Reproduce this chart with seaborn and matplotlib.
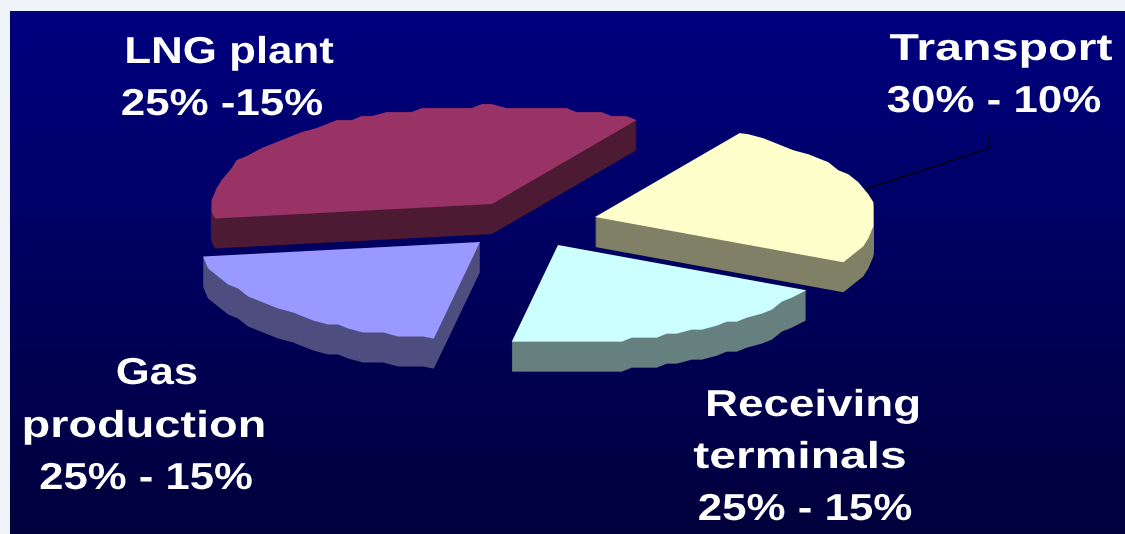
import numpy as np
import matplotlib
matplotlib.use("Agg")
import matplotlib.pyplot as plt
import matplotlib.patheffects as pe
from matplotlib.path import Path
from matplotlib.transforms import Affine2D
import seaborn as sns

# Cost-chain breakdown: slice order runs clockwise from the transport slice
categories = ["Transport", "Receiving terminals", "Gas production", "LNG plant"]
slice_shares = [24, 20, 20, 36]
top_colors = ["#FFFFCC", "#CCFFFF", "#9999FF", "#993366"]
wall_colors = ["#808066", "#668080", "#4D4D80", "#4D1A33"]

# Label lines: text, centre x, baseline y (image pixels from the top), horizontal stretch
label_lines = ["LNG plant", "25% -15%", "Transport", "30% - 10%", "Gas", "production",
               "25% - 15%", "Receiving", "terminals", "25% - 15%"]
label_x = [229, 222, 1001, 994, 157, 144, 146, 813, 800, 805]
label_y = [63, 115, 60, 112, 384, 437, 489, 416, 468, 520]
label_stretch = [1.17, 1.17, 1.29, 1.17, 1.16, 1.25, 1.165, 1.22, 1.28, 1.17]

# Slice tips after pulling the pie apart, image pixels
tip_x = [595, 558, 480, 492]
tip_y = [217, 245, 242, 204]

WIDTH, HEIGHT = 1125, 534
RADIUS = 280
SQUASH = 98 / RADIUS
DEPTH = 30
START_ANGLE = 58.9

sns.set_theme(style="white")
plt.rcParams["font.family"] = ["Liberation Sans", "DejaVu Sans"]
palette_top = sns.color_palette(top_colors)
palette_wall = sns.color_palette(wall_colors)


class WideGlyphs(pe.AbstractPathEffect):
    """Stretch glyph outlines horizontally about a fixed pixel column."""

    def __init__(self, factor, column):
        super().__init__()
        self.stretch = Affine2D().translate(-column, 0).scale(factor, 1).translate(column, 0)

    def draw_path(self, renderer, gc, tpath, affine, rgbFace=None):
        renderer.draw_path(gc, tpath, affine + self.stretch, rgbFace)


class SteppedArc(pe.AbstractPathEffect):
    """Draw a wedge with its rim stepped on a coarse pixel grid, corners kept exact."""

    def __init__(self, step_x=5, step_y=4, spacing=12):
        super().__init__()
        self.step = np.array([step_x, step_y])
        self.spacing = spacing

    def draw_path(self, renderer, gc, tpath, affine, rgbFace=None):
        outline = affine.transform_path(tpath).to_polygons(closed_only=True)[0][:-1]
        edges = np.linalg.norm(np.roll(outline, -1, axis=0) - outline, axis=1)
        # The two radial edges are the longest; the vertex between them is the tip
        longest = np.argsort(edges)[-2:]
        tip_index = max(longest) if abs(longest[0] - longest[1]) == 1 else 0
        rim = np.roll(outline, -tip_index, axis=0)
        tip, arc = rim[0], rim[1:]
        lengths = np.r_[0, np.cumsum(np.linalg.norm(np.diff(arc, axis=0), axis=1))]
        samples = np.arange(self.spacing, lengths[-1] - self.spacing / 2, self.spacing)
        pts = np.column_stack([np.interp(samples, lengths, arc[:, 0]),
                               np.interp(samples, lengths, arc[:, 1])])
        snapped = np.round((pts - arc[0]) / self.step) * self.step + arc[0]
        verts = np.vstack([tip, arc[0], snapped, arc[-1], tip])
        renderer.draw_path(gc, Path(verts, closed=True), Affine2D(), rgbFace)


def flat_y(py):
    """Image-pixel row to the unsquashed y used by the pie."""
    return (HEIGHT - py) / SQUASH


fig = plt.figure(figsize=(WIDTH / 100, HEIGHT / 100), dpi=100, facecolor="#F1F5FA")
ax = fig.add_axes([0, 0, 1, 1])
rim_effect = [SteppedArc()]


def draw_layer(drop, colors):
    wedges, _ = ax.pie(slice_shares, colors=colors, radius=RADIUS, startangle=START_ANGLE,
                       counterclock=False, wedgeprops={"linewidth": 0})
    for wedge, x, y in zip(wedges, tip_x, tip_y):
        wedge.set_center((x, flat_y(y + drop)))
        wedge.set_path_effects(rim_effect)
    return wedges


# Extruded walls are stacked one pixel at a time, then the lit top goes on
for drop in range(DEPTH, 0, -1):
    draw_layer(drop, palette_wall)
draw_layer(0, palette_top)

ax.set_aspect("auto")
ax.set_frame_on(False)
ax.set_xticks([])
ax.set_yticks([])

# Navy backdrop fading downward, inset from the pale page at top and left
shade = np.linspace(0, 1, 256)[:, None, None]
backdrop = (1 - shade) * np.array([0, 0, 128]) / 255 + shade * np.array([0, 0, 60]) / 255
ax.imshow(backdrop, extent=(10, WIDTH, 0, flat_y(11)), aspect="auto", zorder=0,
          interpolation="bilinear")
ax.set_xlim(0, WIDTH)
ax.set_ylim(0, HEIGHT / SQUASH)

# Leader from the transport slice up to its label
ax.plot([866, 989, 989], [flat_y(189), flat_y(148), flat_y(135)], color="black", lw=0.9,
        zorder=5, solid_joinstyle="miter")

for text, x, y, factor in zip(label_lines, label_x, label_y, label_stretch):
    ax.text(x, flat_y(y), text, color="white", fontsize=27, fontweight="bold",
            ha="center", va="baseline", zorder=6,
            path_effects=[WideGlyphs(factor, x)])

fig.savefig("out.png", dpi=100, facecolor=fig.get_facecolor())
